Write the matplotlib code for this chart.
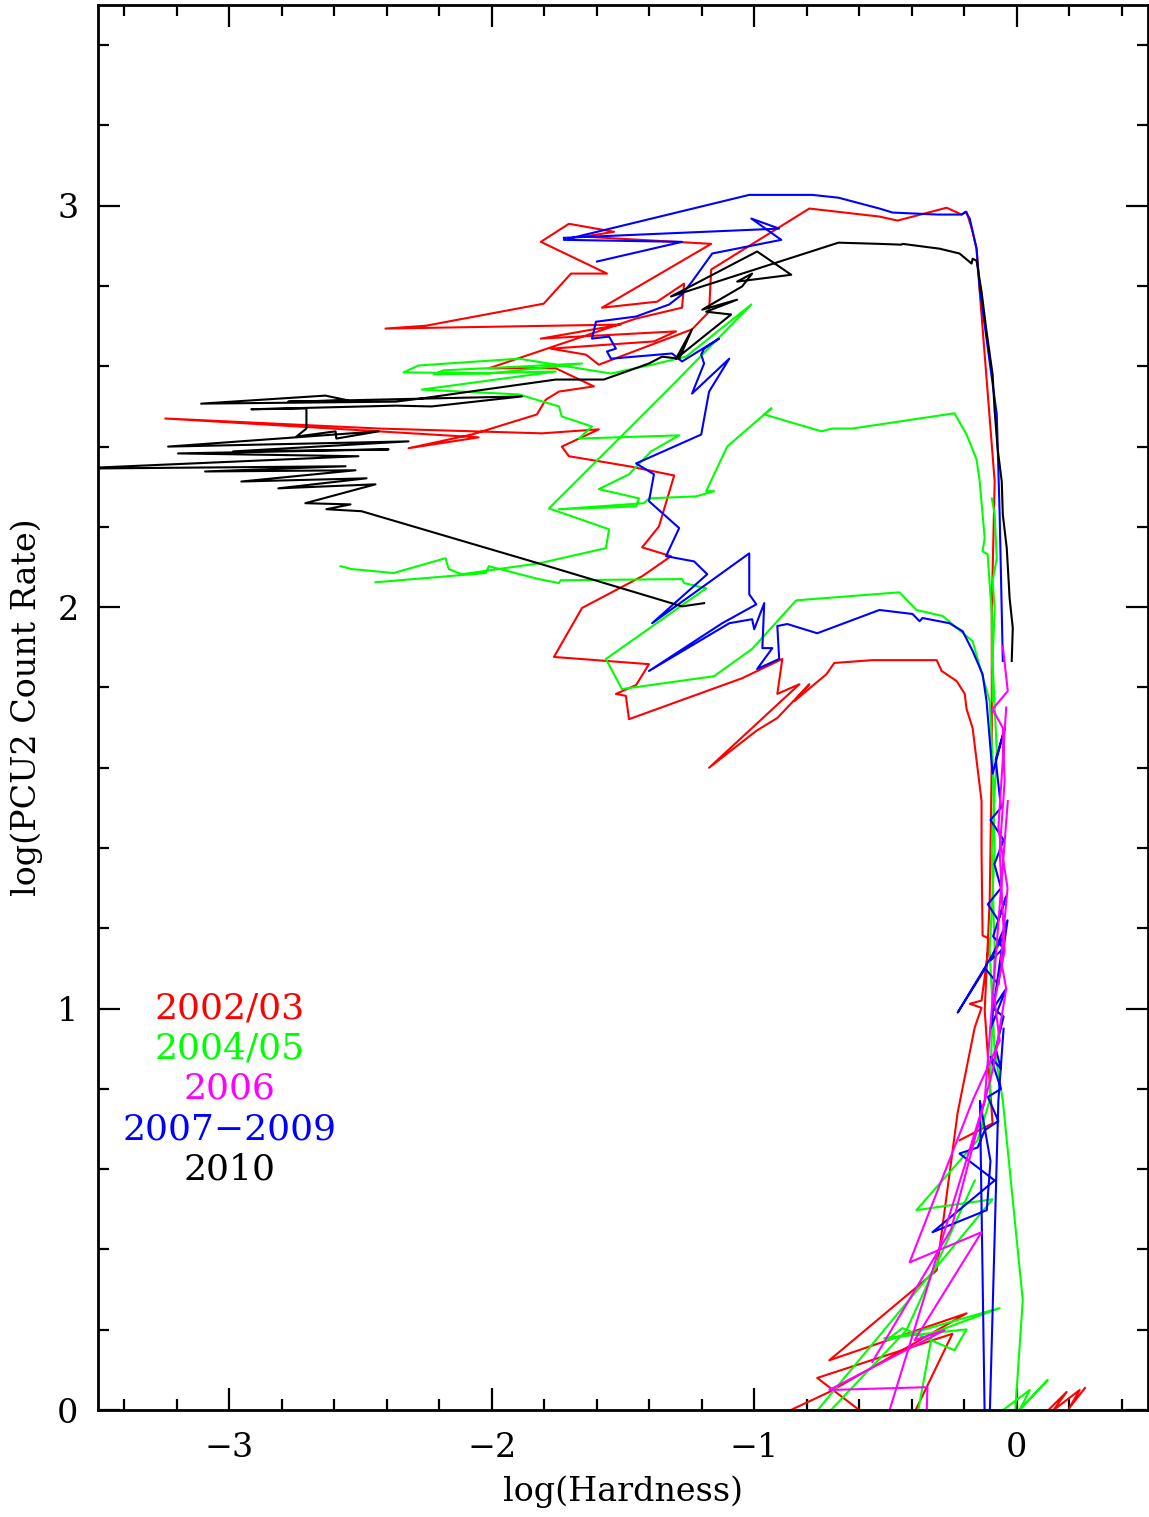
import numpy as np
import matplotlib
matplotlib.use("Agg")
import matplotlib.pyplot as plt
from matplotlib.ticker import MultipleLocator

nan = np.nan

# 2002/03 track (log hardness, log PCU2 rate); nan breaks the line
red_x = [0.09, 0.19, 0.14, 0.24, 0.20, 0.26, nan,
         -0.40, -0.245, -0.76, -0.56, nan,
         -0.218, -0.092, -0.122, -0.103, -0.095, -0.095, -0.084, -0.141, -0.153, -0.168,
         -0.191, -0.21, -0.267, -0.454, -0.523, -0.790, -1.164, -1.172, -1.237, -1.592,
         -1.641, -1.775, -1.382, -1.298, -1.813, -1.508, -2.405, -2.252, -1.802, -1.698,
         -1.561, -1.813, -1.706, -1.534, -1.649, -1.164, -1.580, -1.370, -1.267, -1.275,
         -1.450, -2.011, -1.756, -1.611, -1.744, -1.794, -1.828, -2.076, -2.317, -2.050,
         -3.244, -2.431, -1.809, -1.592, -1.733, -1.706, -1.477, -1.305, -1.363, -1.427,
         -1.317, -1.427, -1.656, -1.763, -1.401, -1.450, -1.527, -1.489, -1.477, -1.046,
         -0.893, -0.912, -0.828, -1.172, -0.992, -0.912, -0.790, -0.847, -0.725, -0.695,
         -0.550, -0.305, -0.286, -0.229, -0.198, -0.191, -0.168, -0.134, -0.134, -0.130,
         -0.103, -0.134, -0.179, -0.134, -0.160, -0.225, -0.305, -0.714, -0.191, -0.714,
         -0.943]
red_y = [-0.02, 0.045, 0.0, 0.05, 0.005, 0.055, nan,
         -0.02, 0.19, 0.08, -0.02, nan,
         0.672, 0.714, 0.995, 1.269, 1.617, 1.998, 2.313, 2.786, 2.893, 2.935,
         2.985, 2.978, 2.995, 2.963, 2.973, 2.993, 2.841, 2.736, 2.692, 2.604,
         2.629, 2.644, 2.662, 2.687, 2.669, 2.704, 2.694, 2.701, 2.756, 2.831,
         2.831, 2.910, 2.955, 2.935, 2.923, 2.905, 2.746, 2.761, 2.806, 2.746,
         2.719, 2.595, 2.595, 2.550, 2.537, 2.517, 2.480, 2.430, 2.396, 2.423,
         2.470, 2.445, 2.433, 2.443, 2.400, 2.376, 2.351, 2.328, 2.201, 2.149,
         2.127, 2.077, 1.998, 1.876, 1.858, 1.806, 1.784, 1.779, 1.721, 1.823,
         1.871, 1.784, 1.808, 1.600, 1.692, 1.724, 1.808, 1.766, 1.833, 1.861,
         1.868, 1.868, 1.841, 1.816, 1.784, 1.746, 1.699, 1.517, 1.386, 1.182,
         1.174, 1.020, 1.012, 1.002, 0.953, 0.741, 0.348, 0.124, 0.241, 0.045,
         -0.025]

# 2004/05 track
green_x = [-2.443, -2.023, -2.011, -1.821, -1.744, -1.737, -1.275, -1.267, -1.183, -1.565,
           -1.504, -1.153, -1.008, -0.840, -0.447, -0.382, -0.282, -0.168, -0.103, -0.092,
           -0.084, -0.103, -0.084, -0.053, 0.023, -0.008, nan,
           -2.576, -2.534, -2.374, -2.176, -2.164, -2.115, -1.821, -1.565, -1.553, -1.782,
           -1.477, -1.298, -1.011, -1.260, -1.389, -1.546, -1.897, -2.279, -2.336, -2.011,
           -1.656, -2.183, -2.221, -1.756, -2.267, -1.897, -1.744, -1.733, -1.618, -1.668,
           -1.286, -1.393, -1.477, -1.592, -1.439, -1.450, -1.744, -1.420, -1.401, -1.221,
           -1.153, -1.183, -1.103, -0.962, -0.935, -0.962, -0.744, -0.702, -0.626, -0.237,
           -0.191, -0.153, -0.141, -0.130, -0.122, -0.130, -0.111, -0.095, -0.092, nan,
           -0.095, -0.084, -0.076, -0.092, -0.084, -0.092, -0.076, -0.095, -0.084, -0.103,
           -0.149, -0.382, -0.092, -0.790, nan,
           -0.160, -0.420, -0.744, nan,
           -0.382, -0.321, -0.065, -0.496, -0.435, -0.237, -0.191, -0.504, nan,
           -0.103, 0.050, 0.011, 0.118, -0.027]
green_y = [2.062, 2.085, 2.102, 2.070, 2.060, 2.067, 2.070, 2.060, 2.047, 1.871,
           1.796, 1.828, 1.896, 2.017, 2.037, 1.993, 1.978, 1.915, 1.766, 1.624,
           1.393, 1.144, 0.896, 0.771, 0.274, -0.025, nan,
           2.102, 2.095, 2.085, 2.122, 2.095, 2.082, 2.109, 2.147, 2.194, 2.246,
           2.445, 2.562, 2.754, 2.624, 2.604, 2.582, 2.619, 2.602, 2.585, 2.582,
           2.607, 2.590, 2.580, 2.587, 2.542, 2.530, 2.500, 2.475, 2.450, 2.420,
           2.428, 2.388, 2.331, 2.294, 2.271, 2.251, 2.244, 2.259, 2.271, 2.276,
           2.289, 2.289, 2.400, 2.480, 2.495, 2.480, 2.438, 2.445, 2.445, 2.483,
           2.430, 2.368, 2.313, 2.231, 2.172, 2.139, 2.132, 1.983, 1.766, nan,
           2.271, 2.231, 2.122, 2.065, 1.998, 1.866, 1.642, 1.393, 1.144, 0.771,
           0.672, 0.498, 0.525, -0.025, nan,
           0.572, 0.199, -0.025, nan,
           -0.025, 0.192, 0.254, 0.174, 0.204, 0.149, 0.201, 0.179, nan,
           -0.025, 0.050, 0.0, 0.075, -0.025]

# 2006 track
magenta_x = [-0.053, -0.034, -0.092, -0.053, -0.046, -0.065, -0.046, -0.084, -0.065, -0.168,
             -0.408, -0.134, -0.389, -0.275, -0.714, -0.340, -0.344, nan,
             -0.034, -0.122, -0.496, nan,
             -0.04, -0.07, -0.035, -0.06, -0.04, -0.09, -0.25, -0.55]
magenta_y = [1.903, 1.791, 1.746, 1.699, 1.567, 1.393, 1.144, 1.020, 0.920, 0.771,
             0.368, 0.443, 0.174, 0.199, 0.050, 0.057, -0.025, nan,
             1.517, 0.771, -0.025, nan,
             1.75, 1.45, 1.30, 1.12, 1.05, 0.85, 0.45, 0.12]

# 2007-2009 track
blue_x = [-0.053, -0.065, -0.076, -0.141, -0.153, -0.179, -0.195, -0.210, -0.302, -0.473,
          -0.523, -0.679, -0.779, -1.019, -1.725, -1.275, -1.599, nan,
          -1.725, -0.905, -1.011, -0.897, -1.160, -1.237, -1.275, -1.324, -1.450, -1.603,
          -1.618, -1.553, -1.527, -1.561, -1.546, -1.313, -1.275, -1.134, -1.191, -1.202,
          -1.191, -1.237, -1.095, -1.172, -1.202, -1.450, -1.382, -1.401, -1.286, -1.336,
          -1.229, -1.179, -1.389, -1.019, -1.019, -0.992, -1.122, -1.401, -1.095, -1.008,
          -1.000, -0.962, -0.969, -0.931, -0.989, -0.905, -0.912, -0.874, -0.760, -0.523,
          -0.397, -0.370, -0.359, -0.256, -0.206, -0.168, -0.130, -0.115, -0.092,
          -0.045, -0.08, -0.06, -0.10, -0.05, -0.085, -0.06, -0.11, -0.07, -0.04,
          -0.09, -0.05, -0.10, -0.035, -0.07, -0.12, -0.225, -0.05, -0.10, -0.04,
          -0.09, -0.05, -0.08, -0.06, -0.10, -0.06, -0.11, -0.07, -0.122, -0.149,
          -0.218, -0.084, -0.321, -0.114, -0.10, -0.14, -0.122, -0.103, -0.07, -0.05]
blue_y = [1.866, 2.231, 2.480, 2.794, 2.893, 2.968, 2.985, 2.978, 2.978, 2.983,
          2.993, 3.020, 3.027, 3.027, 2.915, 2.910, 2.861, nan,
          2.920, 2.943, 2.968, 2.915, 2.881, 2.811, 2.779, 2.754, 2.724, 2.711,
          2.669, 2.674, 2.644, 2.637, 2.619, 2.632, 2.612, 2.669, 2.644, 2.629,
          2.607, 2.532, 2.619, 2.537, 2.430, 2.358, 2.331, 2.264, 2.197, 2.127,
          2.114, 2.082, 1.960, 2.134, 2.032, 2.007, 1.960, 1.841, 1.960, 1.970,
          1.945, 2.010, 1.898, 1.898, 1.846, 1.871, 1.953, 1.958, 1.935, 1.993,
          1.983, 1.965, 1.973, 1.960, 1.940, 1.891, 1.833, 1.766, 1.585,
          1.70, 1.62, 1.50, 1.47, 1.42, 1.36, 1.30, 1.26, 1.22, 1.28,
          1.18, 1.15, 1.12, 1.22, 1.06, 1.10, 0.99, 1.18, 0.95, 1.05,
          1.00, 0.98, 0.90, 0.85, 0.88, 0.80, 0.78, 0.72, 0.697, 0.654,
          0.639, 0.572, 0.443, 0.498, 0.62, 0.77, -0.02, -0.02, 0.77, 0.95]

# 2010 track
black_x = [-0.019, -0.015, -0.027, -0.038, -0.053, -0.057, -0.073, -0.084, -0.092, -0.115,
           -0.134, -0.153, -0.168, -0.172, -0.218, -0.294, -0.435, -0.439, -0.523, -0.679,
           -1.317, -0.989, -0.859, -1.065, -1.008, -1.046, -1.198, -1.065, -1.183, -1.088,
           -1.298, -1.237, -1.286, -1.351, -1.401, -1.573, -1.756, -2.267, -2.366, -3.107,
           -2.634, -2.546, -2.775, -1.885, -2.229, -2.366, -2.916, -2.706, -2.706, -2.744,
           -2.595, -2.592, -2.431, -3.233, -2.317, -2.985, -2.393, -3.195, -2.508, -3.600,
           -2.557, -3.092, -2.519, -2.954, -2.477, -2.813, -2.443, -2.710, -2.538, -2.630,
           -2.496, -1.821, -1.275, -1.191]
black_y = [1.866, 1.948, 2.022, 2.147, 2.231, 2.313, 2.396, 2.488, 2.580, 2.687,
           2.786, 2.863, 2.868, 2.856, 2.881, 2.893, 2.905, 2.903, 2.905, 2.908,
           2.774, 2.886, 2.828, 2.811, 2.831, 2.799, 2.741, 2.766, 2.736, 2.729,
           2.619, 2.692, 2.619, 2.624, 2.607, 2.567, 2.567, 2.520, 2.512, 2.507,
           2.527, 2.515, 2.512, 2.525, 2.500, 2.502, 2.493, 2.495, 2.445, 2.425,
           2.438, 2.420, 2.438, 2.400, 2.413, 2.388, 2.393, 2.383, 2.376, 2.345,
           2.351, 2.338, 2.341, 2.313, 2.321, 2.296, 2.306, 2.259, 2.256, 2.244,
           2.239, 2.109, 2.002, 2.010]

labels = ["2002/03", "2004/05", "2006", "2007\u22122009", "2010"]
colors = ["#ff0000", "#00ff00", "#ff00ff", "#0000ff", "#000000"]

plt.rcParams["font.family"] = ["DejaVu Serif"]
fig = plt.figure(figsize=(11.49, 15.17), dpi=100)
ax = fig.add_axes([0.0853, 0.0705, 0.9138, 0.9262])

lw = 1.5
ax.plot(red_x, red_y, color=colors[0], lw=lw)
ax.plot(green_x, green_y, color=colors[1], lw=lw)
ax.plot(blue_x, blue_y, color=colors[3], lw=lw)
ax.plot(magenta_x, magenta_y, color=colors[2], lw=lw)
ax.plot(black_x, black_y, color=colors[4], lw=lw)

ax.set_xlim(-3.5, 0.5)
ax.set_ylim(0, 3.5)
ax.xaxis.set_major_locator(MultipleLocator(1))
ax.xaxis.set_minor_locator(MultipleLocator(0.2))
ax.yaxis.set_major_locator(MultipleLocator(1))
ax.yaxis.set_minor_locator(MultipleLocator(0.2))
ax.tick_params(which="both", direction="in", top=True, right=True, width=1.6,
               labelsize=24)
ax.tick_params(which="major", length=16)
ax.tick_params(which="minor", length=8)
ax.tick_params(axis="x", which="major", pad=16)
ax.tick_params(axis="y", which="major", pad=14)
for s in ax.spines.values():
    s.set_linewidth(2)

ax.set_xlabel("log(Hardness)", fontsize=24, labelpad=8)
ax.set_ylabel("log(PCU2 Count Rate)", fontsize=24, labelpad=10)

# year labels, stacked in the lower left
for i, (lab, c) in enumerate(zip(labels, colors)):
    ax.text(-3.0, 1.0 - i * 0.1, lab, color=c, fontsize=26,
            ha="center", va="center")

fig.savefig("out.png", dpi=100)
